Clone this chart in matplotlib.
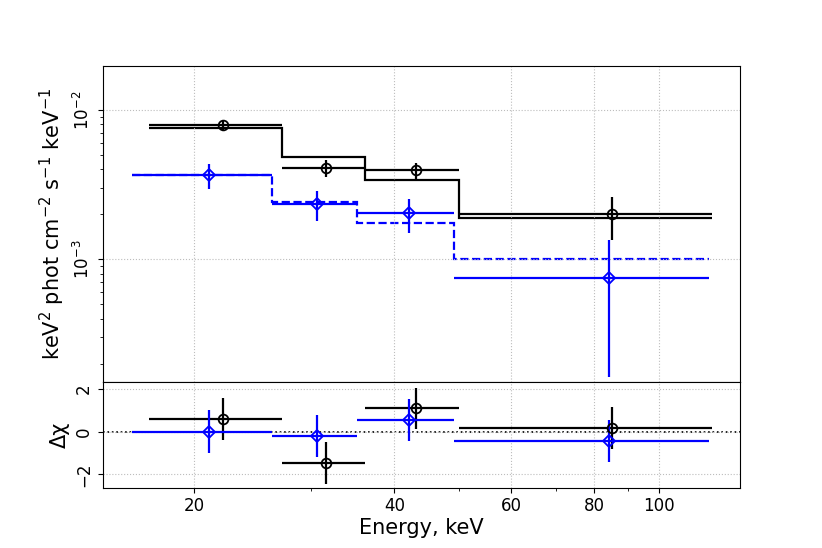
import numpy as np
import matplotlib
matplotlib.use("Agg")
import matplotlib.pyplot as plt
from matplotlib.ticker import FixedLocator, NullFormatter, FixedFormatter, LogLocator

# ---------------- data ----------------
# black dataset
blk_edges = [17.07, 27.13, 36.1, 50.0, 120.2]
blk_x = [22.1, 31.6, 43.1, 85.1]
blk_xlo = [17.07, 27.13, 36.1, 50.0]
blk_xhi = [27.13, 36.1, 50.0, 120.2]
blk_y = [7.93e-3, 4.06e-3, 3.96e-3, 2.0e-3]
blk_ylo = [7.3e-3, 3.55e-3, 3.46e-3, 1.34e-3]
blk_yhi = [8.55e-3, 4.6e-3, 4.45e-3, 2.62e-3]
blk_model = [7.54e-3, 4.86e-3, 3.42e-3, 1.89e-3]
blk_res = [0.58, -1.46, 1.08, 0.15]
blk_res_err = [0.97, 0.98, 0.97, 0.98]

# blue dataset
blu_edges = [16.08, 26.15, 35.1, 49.1, 119.1]
blu_x = [21.05, 30.6, 42.1, 84.1]
blu_xlo = [16.08, 26.15, 35.1, 49.1]
blu_xhi = [26.15, 35.1, 49.1, 119.1]
blu_y = [3.66e-3, 2.34e-3, 2.03e-3, 7.53e-4]
blu_ylo = [2.98e-3, 1.81e-3, 1.51e-3, 1.62e-4]
blu_yhi = [4.34e-3, 2.87e-3, 2.53e-3, 1.34e-3]
blu_model = [3.66e-3, 2.42e-3, 1.76e-3, 1.01e-3]
blu_res = [-0.01, -0.2, 0.54, -0.44]
blu_res_err = [1.0, 0.99, 0.98, 1.0]

x_major = [20, 40, 60, 80, 100]
x_minor = [30, 50, 70, 90]
x_labels = ["20", "40", "60", "80", "100"]

# ---------------- plot ----------------
fig = plt.figure(figsize=(8.22, 5.48), dpi=100)
gs = fig.add_gridspec(2, 1, height_ratios=[3, 1], hspace=0,
                      left=0.125, right=0.9, top=0.88, bottom=0.11)
ax = fig.add_subplot(gs[0])
axr = fig.add_subplot(gs[1], sharex=ax)

TICK_FS = 12
LAB_FS = 15
LW = 1.6
grid_kw = dict(color="#bdbdbd", linestyle=":", linewidth=0.8)


def xerr_of(x, lo, hi):
    x = np.asarray(x)
    return [x - np.asarray(lo), np.asarray(hi) - x]


def yerr_of(y, lo, hi):
    y = np.asarray(y)
    return [y - np.asarray(lo), np.asarray(hi) - y]


# top panel
ax.stairs(blk_model, blk_edges, baseline=None, color="k", lw=LW)
ax.stairs(blu_model, blu_edges, baseline=None, color="b", lw=LW, linestyle="--")
ax.errorbar(blk_x, blk_y, xerr=xerr_of(blk_x, blk_xlo, blk_xhi),
            yerr=yerr_of(blk_y, blk_ylo, blk_yhi), fmt="o", color="k",
            mfc="none", mec="k", ms=7, mew=1.3, elinewidth=LW, capsize=0)
ax.errorbar(blu_x, blu_y, xerr=xerr_of(blu_x, blu_xlo, blu_xhi),
            yerr=yerr_of(blu_y, blu_ylo, blu_yhi), fmt="D", color="b",
            mfc="none", mec="b", ms=6.5, mew=1.3, elinewidth=LW, capsize=0)

ax.set_xscale("log")
ax.set_yscale("log")
ax.set_xlim(14.55, 132.5)
ax.set_ylim(1.5e-4, 1.98e-2)
ax.yaxis.set_major_locator(FixedLocator([1e-3, 1e-2]))
ax.yaxis.set_major_formatter(FixedFormatter([r"$10^{-3}$", r"$10^{-2}$"]))
ax.yaxis.set_minor_locator(LogLocator(base=10, subs=np.arange(2, 10)))
ax.yaxis.set_minor_formatter(NullFormatter())
ax.grid(True, which="major", **grid_kw)
ax.set_ylabel(r"keV$^2$ phot cm$^{-2}$ s$^{-1}$ keV$^{-1}$", fontsize=LAB_FS)
ax.tick_params(axis="x", which="both", labelbottom=False)

# residual panel
axr.errorbar(blk_x, blk_res, xerr=xerr_of(blk_x, blk_xlo, blk_xhi),
             yerr=blk_res_err, fmt="o", color="k", mfc="none", mec="k",
             ms=7, mew=1.3, elinewidth=LW, capsize=0)
axr.errorbar(blu_x, blu_res, xerr=xerr_of(blu_x, blu_xlo, blu_xhi),
             yerr=blu_res_err, fmt="D", color="b", mfc="none", mec="b",
             ms=6.5, mew=1.3, elinewidth=LW, capsize=0)
axr.axhline(0, color="k", linestyle=":", linewidth=1.2, zorder=0.5)
axr.set_ylim(-2.63, 2.31)
axr.yaxis.set_major_locator(FixedLocator([-2, 0, 2]))
axr.grid(True, which="major", **grid_kw)
axr.set_ylabel("Δχ", fontsize=LAB_FS)
axr.set_xlabel("Energy, keV", fontsize=LAB_FS, labelpad=1.5)

axr.xaxis.set_major_locator(FixedLocator(x_major))
axr.xaxis.set_major_formatter(FixedFormatter(x_labels))
axr.xaxis.set_minor_locator(FixedLocator(x_minor))
axr.xaxis.set_minor_formatter(NullFormatter())

for a in (ax, axr):
    a.tick_params(axis="both", which="major", labelsize=TICK_FS)
    a.tick_params(axis="y", which="major", labelrotation=90)
    for lab in a.get_yticklabels():
        lab.set_verticalalignment("center")

fig.savefig("out.png", dpi=100)
